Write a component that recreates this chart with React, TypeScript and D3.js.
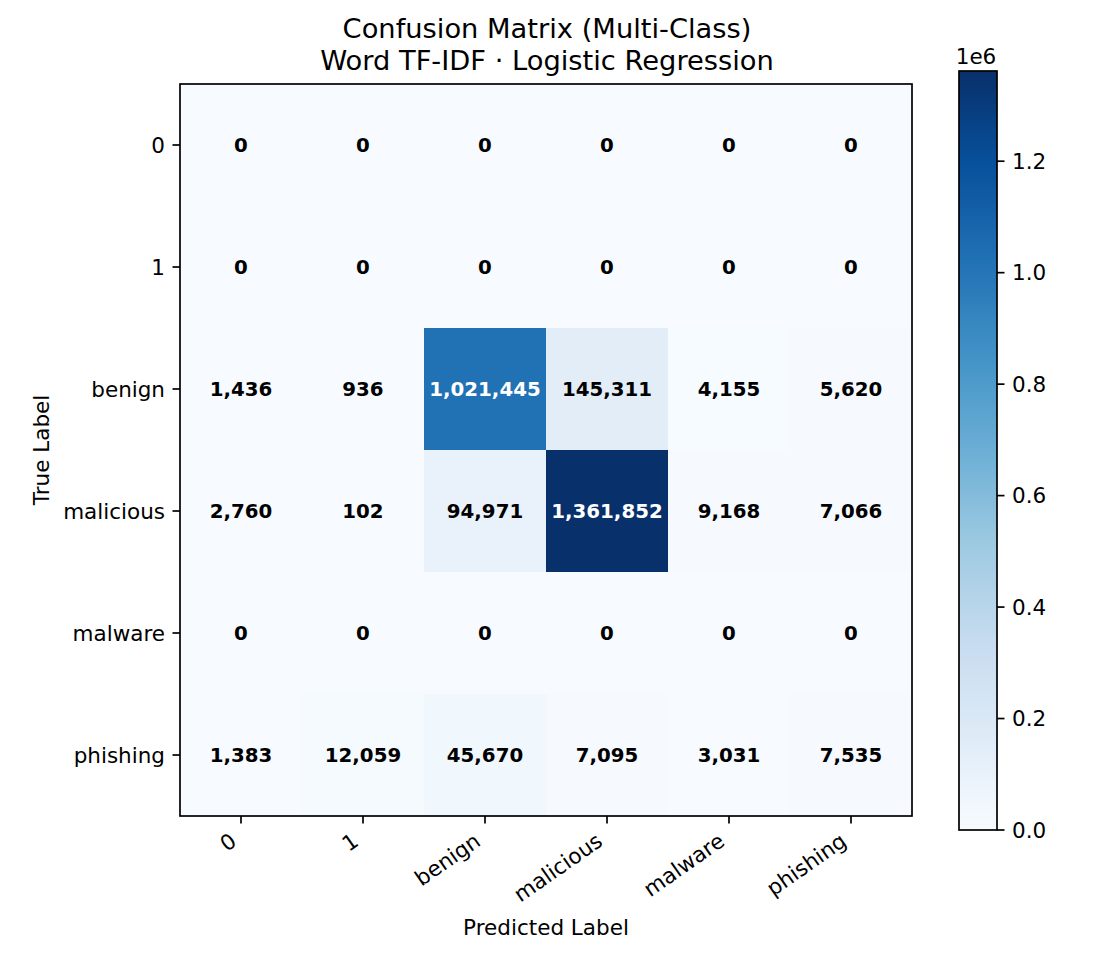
import React from "react";
import * as d3 from "d3";

const classes = ["0", "1", "benign", "malicious", "malware", "phishing"];

// rows = true label, columns = predicted label
const row0 = [0, 0, 0, 0, 0, 0];
const row1 = [0, 0, 0, 0, 0, 0];
const rowBenign = [1436, 936, 1021445, 145311, 4155, 5620];
const rowMalicious = [2760, 102, 94971, 1361852, 9168, 7066];
const rowMalware = [0, 0, 0, 0, 0, 0];
const rowPhishing = [1383, 12059, 45670, 7095, 3031, 7535];
const matrix = [row0, row1, rowBenign, rowMalicious, rowMalware, rowPhishing];

const colorbarTicks = [0, 200000, 400000, 600000, 800000, 1000000, 1200000];

// ColorBrewer "Blues" anchors, interpolated linearly
const bluesAnchors = [
  "#f7fbff", "#deebf7", "#c6dbef", "#9ecae1", "#6baed6",
  "#4292c6", "#2171b5", "#08519c", "#08306b",
];

const W = 1120;
const H = 960;
const FONT = "'DejaVu Sans', Verdana, sans-serif";

const ax = { left: 180, top: 84, size: 732 };
const cb = { left: 959, width: 38, top: 71, bottom: 830 };

export default function App() {
  const vmax = d3.max(matrix.flat()) as number;
  const blues = d3
    .scaleLinear<string>()
    .domain(bluesAnchors.map((_, i) => i / (bluesAnchors.length - 1)))
    .range(bluesAnchors)
    .interpolate(d3.interpolateRgb)
    .clamp(true);
  const color = (v: number) => blues(v / vmax);

  const x = d3.scaleBand<string>().domain(classes).range([ax.left, ax.left + ax.size]);
  const y = d3.scaleBand<string>().domain(classes).range([ax.top, ax.top + ax.size]);
  const cbY = d3.scaleLinear().domain([0, vmax]).range([cb.bottom, cb.top]);

  const fmt = d3.format(",");
  const tickLen = 7.5;
  const pad = 7.5;
  const tickFont = 21.5;
  const angle = 35;
  const rad = (angle * Math.PI) / 180;
  const asc = 0.76 * tickFont;
  const desc = 0.24 * tickFont;

  const gradStops = d3.range(0, 1.0001, 1 / 64);

  return (
    <svg
      width={W}
      height={H}
      style={{ position: "absolute", left: 0, top: 0, background: "#fff" }}
      fontFamily={FONT}
    >
      <defs>
        <linearGradient id="cbGrad" x1="0" y1="1" x2="0" y2="0">
          {gradStops.map((t) => (
            <stop key={t} offset={t} stopColor={blues(t)} />
          ))}
        </linearGradient>
      </defs>

      {/* title */}
      <text x={547} y={38} textAnchor="middle" fontSize={27.3} fill="#000">
        Confusion Matrix (Multi-Class)
      </text>
      <text x={547} y={70} textAnchor="middle" fontSize={27.3} fill="#000">
        Word TF-IDF · Logistic Regression
      </text>

      {/* cells */}
      {matrix.map((row, ri) =>
        row.map((v, ci) => (
          <rect
            key={`c-${ri}-${ci}`}
            x={x(classes[ci])}
            y={y(classes[ri])}
            width={x.bandwidth() + 0.5}
            height={y.bandwidth() + 0.5}
            fill={color(v)}
          />
        ))
      )}

      {/* cell annotations */}
      {matrix.map((row, ri) =>
        row.map((v, ci) => (
          <text
            key={`t-${ri}-${ci}`}
            x={(x(classes[ci]) as number) + x.bandwidth() / 2}
            y={(y(classes[ri]) as number) + y.bandwidth() / 2}
            dy="0.36em"
            textAnchor="middle"
            fontSize={19.8}
            fontWeight="bold"
            fill={v > vmax / 2 ? "#fff" : "#000"}
          >
            {fmt(v)}
          </text>
        ))
      )}

      {/* frame */}
      <rect
        x={ax.left}
        y={ax.top}
        width={ax.size}
        height={ax.size}
        fill="none"
        stroke="#000"
        strokeWidth={1.7}
      />

      {/* x axis */}
      {classes.map((c) => {
        const cx = (x(c) as number) + x.bandwidth() / 2;
        const top = ax.top + ax.size + tickLen + pad;
        const px = cx - desc * Math.sin(rad);
        const py = top + asc * Math.cos(rad);
        return (
          <g key={`xt-${c}`}>
            <line
              x1={cx}
              x2={cx}
              y1={ax.top + ax.size}
              y2={ax.top + ax.size + tickLen}
              stroke="#000"
              strokeWidth={1.7}
            />
            <text
              x={px}
              y={py}
              textAnchor="end"
              fontSize={tickFont}
              transform={`rotate(${-angle},${px},${py})`}
              fill="#000"
            >
              {c}
            </text>
          </g>
        );
      })}

      {/* y axis */}
      {classes.map((c) => {
        const cy = (y(c) as number) + y.bandwidth() / 2;
        return (
          <g key={`yt-${c}`}>
            <line
              x1={ax.left - tickLen}
              x2={ax.left}
              y1={cy}
              y2={cy}
              stroke="#000"
              strokeWidth={1.7}
            />
            <text
              x={ax.left - tickLen - pad}
              y={cy}
              dy="0.36em"
              textAnchor="end"
              fontSize={tickFont}
              fill="#000"
            >
              {c}
            </text>
          </g>
        );
      })}

      {/* axis labels */}
      <text x={546} y={935} textAnchor="middle" fontSize={tickFont} fill="#000">
        Predicted Label
      </text>
      <text
        x={49}
        y={450}
        textAnchor="middle"
        fontSize={tickFont}
        transform="rotate(-90,49,450)"
        fill="#000"
      >
        True Label
      </text>

      {/* colorbar */}
      <rect
        x={cb.left}
        y={cb.top}
        width={cb.width}
        height={cb.bottom - cb.top}
        fill="url(#cbGrad)"
        stroke="#000"
        strokeWidth={1.7}
      />
      {colorbarTicks.map((t) => (
        <g key={`cb-${t}`}>
          <line
            x1={cb.left + cb.width}
            x2={cb.left + cb.width + tickLen}
            y1={cbY(t)}
            y2={cbY(t)}
            stroke="#000"
            strokeWidth={1.7}
          />
          <text
            x={cb.left + cb.width + tickLen + pad}
            y={cbY(t)}
            dy="0.36em"
            fontSize={tickFont}
            fill="#000"
          >
            {(t / 1e6).toFixed(1)}
          </text>
        </g>
      ))}
      <text x={976} y={64} textAnchor="middle" fontSize={tickFont} fill="#000">
        1e6
      </text>
    </svg>
  );
}
